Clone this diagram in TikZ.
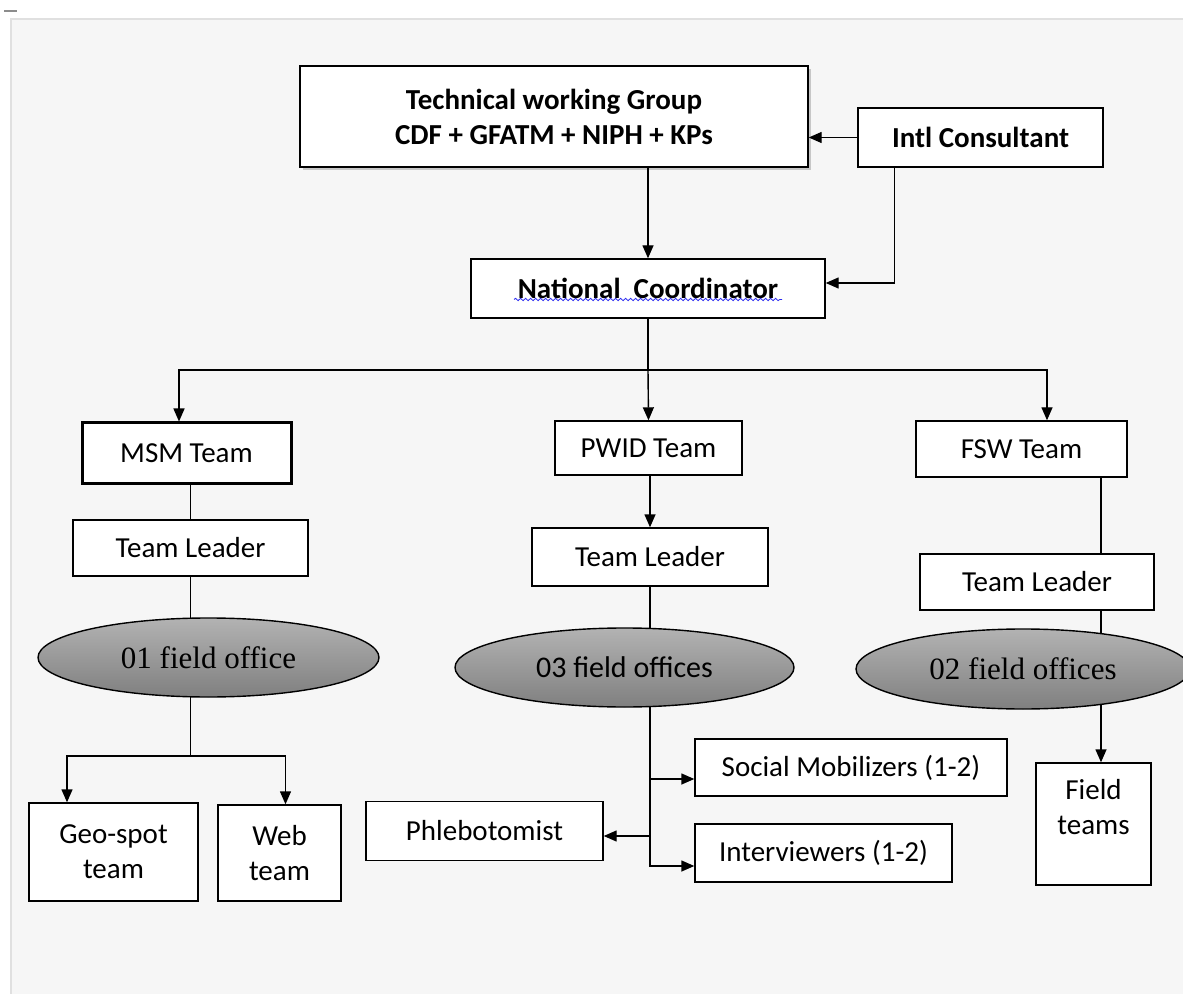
\documentclass[tikz,border=0pt]{standalone}
\usepackage{fontspec}
\setmainfont{Carlito}
\newfontfamily\timesfont{Liberation Serif}
\usetikzlibrary{positioning, arrows.meta, shapes.geometric, shadows, decorations.pathmorphing}
\definecolor{panelgray}{HTML}{F6F6F6}
\definecolor{panelline}{HTML}{E0E0E0}
\definecolor{spellblue}{HTML}{2B2BF0}
\pgfdeclarelayer{bg}
\pgfsetlayers{bg,main}

\begin{document}
\begin{tikzpicture}[
  x=0.5pt, y=-0.5pt,
  box/.style={draw, fill=white, line width=0.7pt, inner sep=0pt, align=center,
              font=\fontsize{14.5}{17.5}\selectfont},
  boldbox/.style={box, font=\bfseries\fontsize{14.5}{17.5}\selectfont},
  office/.style={ellipse, draw, line width=0.7pt, inner sep=0pt,
                 top color=black!30, bottom color=black!50},
  arrow/.style={-{Triangle[length=6.5pt, width=5.5pt]}, line width=0.7pt},
  link/.style={line width=0.7pt}
]
\useasboundingbox (0,0) rectangle (1183,994);
\begin{pgfonlayer}{bg}
\fill[panelgray] (11,19) rectangle (1183,994);
\draw[panelline, line width=0.8pt] (1183,19) -- (11,19) -- (11,994);
\end{pgfonlayer}
\draw[black!45, line width=1pt] (4,11) -- (17,11);

% top level
\node[boldbox, minimum width=254pt, minimum height=50.5pt,
      drop shadow={shadow xshift=1.5pt, shadow yshift=-1.5pt, fill=black!22, opacity=1}]
  (twg) at (554,116.5) {Technical working Group\\CDF + GFATM + NIPH + KPs};
\node[boldbox, minimum width=122.5pt, minimum height=29.5pt] (intl) at (980.5,137.5) {Intl Consultant};
\node[boldbox, minimum width=177pt, minimum height=29.5pt] (nc) at (648,288.5) {National\ \ Coordinator};
\draw[spellblue, line width=0.4pt, decorate, decoration={snake, amplitude=0.6pt, segment length=2.5pt}]
  ([xshift=-67pt, yshift=-5.5pt]nc.center) -- ([xshift=67pt, yshift=-5.5pt]nc.center);

% teams
\node[box, line width=1.5pt, minimum width=104.5pt, minimum height=30pt] (msm) at (186.5,453) {MSM Team};
\node[box, minimum width=93.5pt, minimum height=27pt] (pwid) at (648.5,448) {PWID Team};
\node[box, minimum width=105.5pt, minimum height=28pt] (fsw) at (1021.5,449) {FSW Team};

% MSM column
\node[box, minimum width=117.5pt, minimum height=28pt] (msmtl) at (190.5,548) {Team Leader};
\node[office, minimum width=170.5pt, minimum height=39.5pt, font=\timesfont\fontsize{15.5}{18}\selectfont]
  (msmoff) at (208.5,657.5) {01 field office};
\node[box, minimum width=84.5pt, minimum height=49pt] (geo) at (113.5,852) {Geo-spot\\team};
\node[box, minimum width=61.5pt, minimum height=48pt] (web) at (279.5,853) {Web\\team};

% PWID column
\node[box, minimum width=118pt, minimum height=29pt] (pwidtl) at (650,557) {Team Leader};
\node[office, minimum width=169.5pt, minimum height=39.5pt, font=\fontsize{15}{18}\selectfont]
  (pwidoff) at (624.5,667.5) {03 field offices};
\node[box, minimum width=156pt, minimum height=28.5pt] (sm) at (851,767.5) {Social Mobilizers (1-2)};
\node[box, minimum width=118.5pt, minimum height=29.5pt] (phleb) at (484.5,831) {Phlebotomist};
\node[box, minimum width=128.5pt, minimum height=29pt] (intv) at (823.5,853) {Interviewers (1-2)};

% FSW column
\node[box, minimum width=117pt, minimum height=28pt] (fswtl) at (1037,582) {Team Leader};
\node[office, minimum width=167pt, minimum height=40pt, font=\timesfont\fontsize{15.5}{18}\selectfont]
  (fswoff) at (1023,669) {02 field offices};
\node[box, minimum width=57.5pt, minimum height=61pt] (field) at (1093.5,824) {Field\\teams\\\mbox{}};

% connectors
\draw[arrow] (intl.west) -- (intl.west -| twg.east);
\draw[arrow] (twg.south -| nc.north) -- (nc.north);
\coordinate (ncin) at ([yshift=2.75pt]nc.east);
\draw[arrow] ([xshift=18.5pt]intl.south west) |- (ncin);

\coordinate (hub) at (648,370);
\draw[link] (nc.south) -- (hub);
\draw[arrow] (hub) -| ([xshift=-3.75pt]msm.north);
\draw[arrow] (hub) -- (pwid.north);
\draw[arrow] (hub) -| ([xshift=12.75pt]fsw.north);

\coordinate (msmsplit) at (190.5,756);
\draw[link] (msm.south -| msmtl.north) -- (msmtl.north);
\draw[arrow] (msmsplit) -| ([xshift=-23.25pt]geo.north);
\draw[arrow] (msmsplit) -| ([xshift=3pt]web.north);

\coordinate (smin) at ([yshift=-5.75pt]sm.west);
\coordinate (phin) at ([yshift=-2.5pt]phleb.east);
\coordinate (ivin) at ([yshift=-6.5pt]intv.west);
\draw[arrow] (pwid.south -| pwidtl.north) -- (pwidtl.north);
\draw[arrow] (pwidtl.south |- smin) -- (smin);
\draw[arrow] (pwidtl.south |- phin) -- (phin);

\coordinate (fswx) at ([xshift=39.75pt]fsw.south);
\draw[link] (fswx) -- (fswx |- fswtl.north);

% stems that pass behind the field-office ellipses
\begin{pgfonlayer}{bg}
\draw[link] (msmtl.south) -- (msmsplit);
\draw[arrow] (pwidtl.south) |- (ivin);
\draw[arrow] (fswx |- fswtl.south) -- (fswx |- field.north);
\end{pgfonlayer}
\end{tikzpicture}
\end{document}
